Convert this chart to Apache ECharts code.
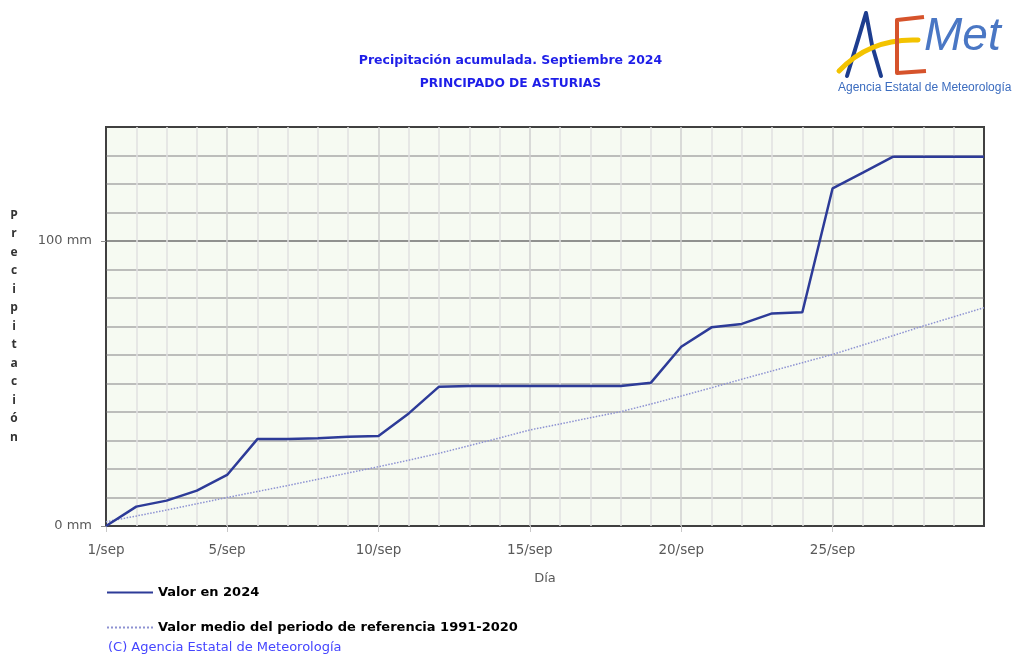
<!DOCTYPE html>
<html>
<head>
<meta charset="utf-8">
<script src="https://cdn.jsdelivr.net/npm/echarts@6/dist/echarts.min.js"></script>
<style>
  html, body { margin: 0; padding: 0; background: #fff; }
  #chart { width: 1021px; height: 657px; }
</style>
</head>
<body>
<div id="chart"></div>
<script>
// días del mes
const days = [1,2,3,4,5,6,7,8,9,10,11,12,13,14,15,16,17,18,19,20,21,22,23,24,25,26,27,28,29,30];
// precipitación acumulada 2024 (mm)
const valor2024 = [0,6.8,8.9,12.4,17.9,30.5,30.5,30.8,31.3,31.6,39.5,48.9,49.1,49.1,49.1,49.1,49.1,49.1,50.3,62.9,69.7,70.9,74.6,75.0,118.5,124.0,129.6,129.6,129.6,129.6];
// valor medio 1991-2020 (mm)
const valorMedio = [1.5,3.5,5.6,7.8,10.0,12.1,14.2,16.4,18.6,20.8,23.1,25.5,28.2,30.9,33.7,35.8,38.0,40.1,42.8,45.6,48.5,51.5,54.4,57.3,60.2,63.5,66.8,70.2,73.4,76.6];
// etiquetas del eje y
const yTicks = [0, 100];

const chart = echarts.init(document.getElementById("chart"));

// líneas horizontales: 100 mm más oscura, bordes oscuros
const hLineColors = [];
for (let v = 0; v <= 140; v += 10) {
  hLineColors.push(v === 0 || v === 140 ? "#404040" : v === 100 ? "#6e6e6e" : "#a9a9a9");
}
// verticales: cada 5 días un poco más oscuro
const vLineColors = days.map((d, i) =>
  i === 0 || i === days.length - 1 ? "#404040" : d % 5 === 0 ? "#cfcfcf" : "#e0e0e0"
);

const option = {
  animation: false,
  textStyle: { fontFamily: "DejaVu Sans" },
  grid: {
    left: 106, right: 37, top: 127, bottom: 131,
    show: true,
    backgroundColor: "#f6faf2",
    borderColor: "#404040",
    borderWidth: 2,
  },
  legend: {
    orient: "vertical",
    left: 101,
    top: 581,
    itemWidth: 46,
    itemHeight: 14,
    itemGap: 22,
    itemStyle: { opacity: 0 },
    textStyle: { fontFamily: "DejaVu Sans", fontWeight: "bold", fontSize: 13, color: "#000" },
    data: ["Valor en 2024", "Valor medio del periodo de referencia 1991-2020"],
  },
  xAxis: {
    type: "category",
    boundaryGap: false,
    data: days,
    name: "Día",
    nameLocation: "middle",
    nameGap: 46,
    nameTextStyle: { color: "#595959", fontSize: 13 },
    axisLine: { show: false },
    axisTick: { show: true, length: 6, lineStyle: { color: "#c8c8c8" } },
    axisLabel: {
      color: "#595959",
      fontSize: 13.5,
      margin: 17,
      interval: (i) => i === 0 || ((i + 1) % 5 === 0 && i + 1 < 30),
      formatter: (d) => d + "/sep",
    },
    splitLine: { show: true, interval: 0, lineStyle: { color: vLineColors, width: 1.5 } },
  },
  yAxis: [
    {
      type: "value",
      min: 0,
      max: 140,
      interval: 10,
      axisLine: { show: false },
      axisTick: { show: false },
      axisLabel: {
        color: "#595959",
        fontSize: 13,
        margin: 14,
        formatter: (v) => (yTicks.includes(v) ? v + " mm" : ""),
      },
      splitLine: { lineStyle: { color: hLineColors, width: 1.5 } },
    },
    {
      // solo las marquitas de 0 y 100
      type: "value",
      position: "left",
      min: 0,
      max: 140,
      axisLine: { show: false },
      axisLabel: { show: false },
      splitLine: { show: false },
      axisTick: { show: true, customValues: yTicks, length: 5, lineStyle: { color: "#8c8c8c" } },
    },
  ],
  series: [
    {
      name: "Valor en 2024",
      type: "line",
      symbol: "none",
      data: valor2024,
      lineStyle: { color: "#2d3b98", width: 2.5 },
      itemStyle: { color: "#2d3b98" },
      z: 3,
    },
    {
      name: "Valor medio del periodo de referencia 1991-2020",
      type: "line",
      symbol: "none",
      data: valorMedio,
      lineStyle: { color: "#8d92d2", width: 1.5, type: "dotted" },
      itemStyle: { color: "#8d92d2" },
      z: 2,
    },
  ],
  graphic: [
    // título
    {
      type: "text", left: "center", top: 54,
      style: { text: "Precipitación acumulada. Septiembre 2024", fill: "#1e1ee8", font: "bold 12.5px 'DejaVu Sans'" },
    },
    {
      type: "text", left: "center", top: 78,
      style: { text: "PRINCIPADO DE ASTURIAS", fill: "#1e1ee8", font: "bold 12.3px 'DejaVu Sans'" },
    },
    // nombre del eje y en vertical
    {
      type: "text", x: 14, y: 206,
      style: {
        text: "Precipitación".split("").join("\n"),
        fill: "#333", font: "bold 12px 'Open Sans'",
        align: "center", lineHeight: 18.5,
      },
    },
    // copyright
    {
      type: "text", x: 108, y: 641,
      style: { text: "(C) Agencia Estatal de Meteorología", fill: "#4545ff", font: "13px 'DejaVu Sans'" },
    },
    // logo AEMET
    {
      type: "polyline",
      shape: { points: [[847, 76], [858, 40], [866, 13], [872, 45], [881, 76]] },
      style: { stroke: "#1d3d8f", lineWidth: 4, fill: null, lineJoin: "round", lineCap: "round" },
    },
    {
      type: "bezierCurve",
      shape: { x1: 839, y1: 71, cpx1: 870, cpy1: 38, x2: 918, y2: 40 },
      style: { stroke: "#f3c300", lineWidth: 5, fill: null, lineCap: "round" },
    },
    {
      type: "polyline",
      shape: { points: [[924, 17], [897, 20], [897, 73], [926, 71]] },
      style: { stroke: "#d6532b", lineWidth: 4, fill: null, lineJoin: "round" },
    },
    {
      type: "text", x: 924, y: 14,
      style: { text: "Met", fill: "#4a77c4", font: "italic 46px 'Liberation Sans'" },
    },
    {
      type: "text", x: 838, y: 82,
      style: { text: "Agencia Estatal de Meteorología", fill: "#3b6cbf", font: "12px 'Liberation Sans Narrow', 'Liberation Sans'" },
    },
  ],
};

chart.setOption(option);
</script>
</body>
</html>
